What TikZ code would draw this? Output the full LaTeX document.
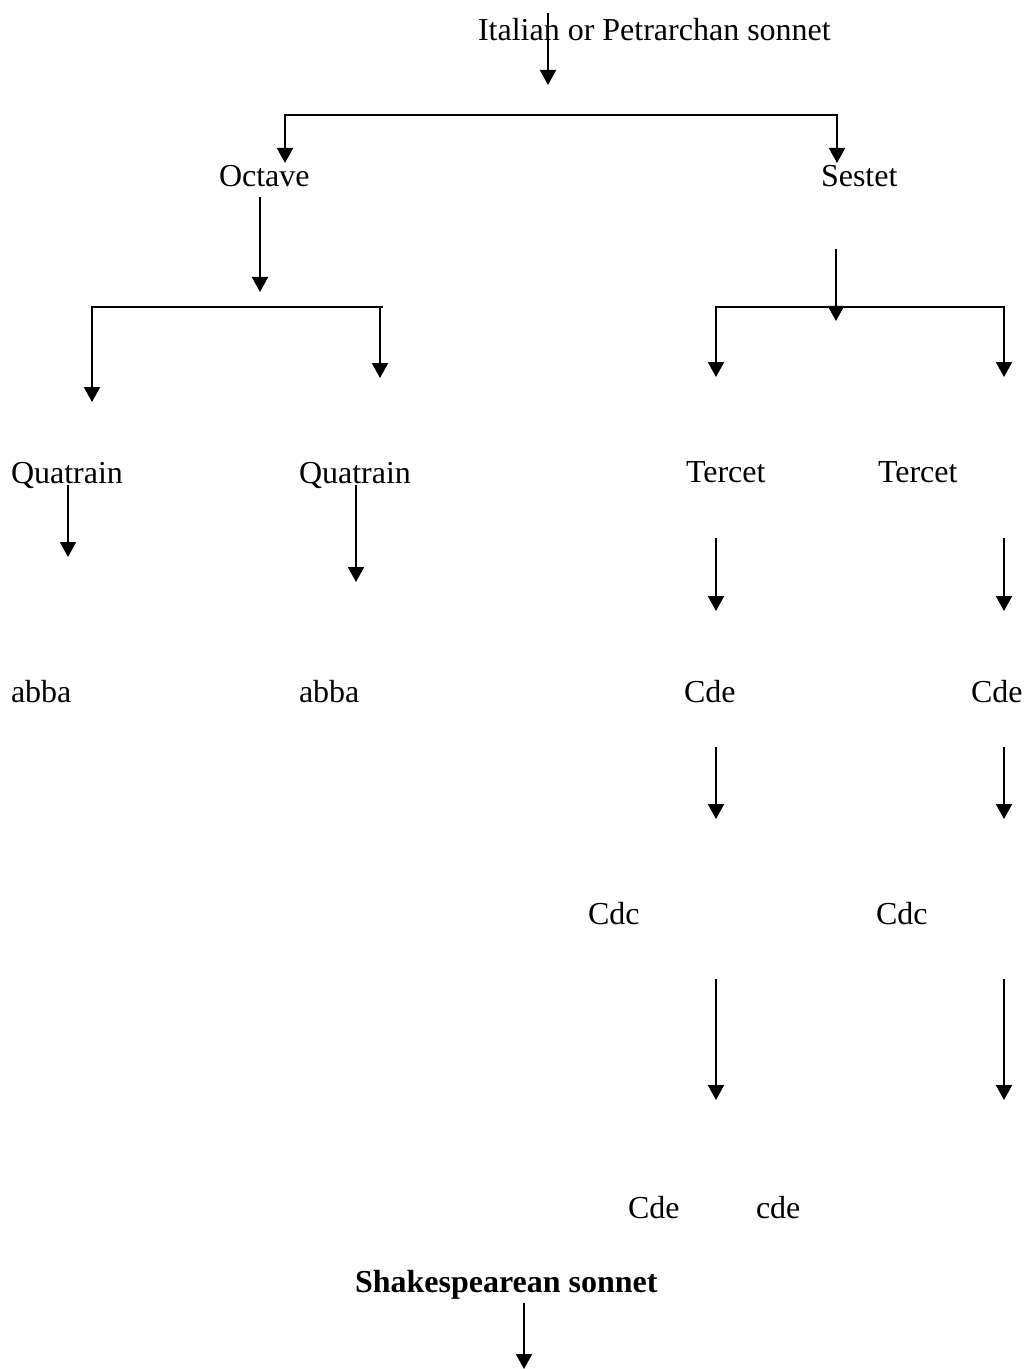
\documentclass[tikz,border=0pt]{standalone}
\usepackage{fontspec}
\setmainfont{Liberation Serif}
\usetikzlibrary{arrows.meta}

\begin{document}
\begin{tikzpicture}[x=0.5pt,y=-0.5pt,line width=1pt,
  word/.style={anchor=base west,inner sep=0pt,font=\fontsize{16}{19}\selectfont},
  arr/.style={-{Triangle[width=8pt,length=7.5pt]}},
  darr/.style={{Triangle[width=8pt,length=7.5pt]}-{Triangle[width=8pt,length=7.5pt]}}]
\useasboundingbox (0,0) rectangle (1025,1369);
% labels
\node[word] (IT) at (477,41) {Italian or Petrarchan sonnet};
\node[word] (OC) at (218,187) {Octave};
\node[word] (SE) at (820,187) {Sestet};
\node[word] (Q1) at (10,483) {Quatrain};
\node[word] (Q2) at (298,483) {Quatrain};
\node[word] (T1) at (685,482) {Tercet};
\node[word] (T2) at (877,482) {Tercet};
\node[word] (A1) at (10,702) {abba};
\node[word] (A2) at (298,702) {abba};
\node[word] (C1) at (683,702) {Cde};
\node[word] (C2) at (970,702) {Cde};
\node[word] (D1) at (587,924) {Cdc};
\node[word] (D2) at (875,924) {Cdc};
\node[word] (E1) at (627,1218) {Cde};
\node[word] (E2) at (755,1218) {cde};
\node[word] (SH) at (354,1292) {\bfseries Shakespearean sonnet};
% arrow ends
\coordinate (ITs) at (548,13);   \coordinate (ITe) at (548,85);
\coordinate (B1l) at (285,163);  \coordinate (B1r) at (837,163);
\coordinate (OCs) at (260,197);  \coordinate (OCe) at (260,292);
\coordinate (B2l) at (92,402);   \coordinate (B2r) at (383,307);
\coordinate (B2s) at (380,307);  \coordinate (B2e) at (380,378);
\coordinate (SEs) at (836,249);  \coordinate (SEe) at (836,321);
\coordinate (B3l) at (716,377);  \coordinate (B3r) at (1004,377);
\coordinate (Q1s) at (68,485);   \coordinate (Q1e) at (68,557);
\coordinate (Q2s) at (356,485);  \coordinate (Q2e) at (356,582);
\coordinate (T1s) at (716,538);  \coordinate (T1e) at (716,611);
\coordinate (T2s) at (1004,538); \coordinate (T2e) at (1004,611);
\coordinate (C1s) at (716,747);  \coordinate (C1e) at (716,819);
\coordinate (C2s) at (1004,747); \coordinate (C2e) at (1004,819);
\coordinate (D1s) at (716,979);  \coordinate (D1e) at (716,1100);
\coordinate (D2s) at (1004,979); \coordinate (D2e) at (1004,1100);
\coordinate (SHs) at (524,1303); \coordinate (SHe) at (524,1369);
% brackets
\draw[darr] (B1l) -- ++(0,-48) -| (B1r);
\draw[-{Triangle[width=8pt,length=7.5pt]}, {Triangle[width=8pt,length=7.5pt]}-] (B2l) |- (B2r);
\draw[darr] (B3l) -- ++(0,-70) -| (B3r);
% arrows
\path[arr]
(ITs) edge (ITe)
(OCs) edge (OCe)
(B2s) edge (B2e)
(SEs) edge (SEe)
(Q1s) edge (Q1e)
(Q2s) edge (Q2e)
(T1s) edge (T1e)
(T2s) edge (T2e)
(C1s) edge (C1e)
(C2s) edge (C2e)
(D1s) edge (D1e)
(D2s) edge (D2e)
(SHs) edge (SHe);
\end{tikzpicture}
\end{document}
